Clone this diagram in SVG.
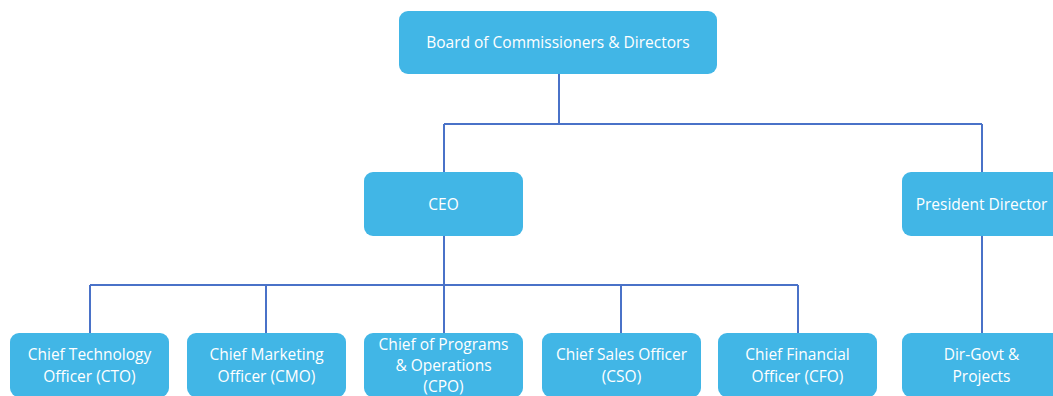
<svg xmlns="http://www.w3.org/2000/svg" width="1053" height="396" viewBox="0 0 1053 396">
<style>
.box{fill:#41b6e6;}
.t{font-family:"Open Sans","Liberation Sans",sans-serif;font-size:15.5px;fill:#ffffff;text-anchor:middle;}
.c{stroke:#4a72c8;stroke-width:2;fill:none;}
</style>
<rect width="1053" height="396" fill="#ffffff"/>
<g id="connectors">
<path class="c" d="M559 74 V124 M444 124 H982 M444 124 V172 M982 124 V172"/>
<path class="c" d="M444 236 V333 M90 285 H798 M90 285 V333 M266 285 V333 M621 285 V333 M798 285 V333"/>
<path class="c" d="M982 236 V333"/>
</g>
<g id="board"><rect class="box" x="399" y="11" width="318" height="63" rx="9"/><text class="t" x="558" y="48">Board of Commissioners &amp; Directors</text></g>
<g id="ceo"><rect class="box" x="364" y="172" width="159" height="64" rx="9"/><text class="t" x="443.5" y="210">CEO</text></g>
<g id="president"><rect class="box" x="902" y="172" width="159" height="64" rx="9"/><text class="t" x="981.5" y="210">President Director</text></g>
<g id="cto"><rect class="box" x="10" y="333" width="159" height="64" rx="9"/><text class="t" x="89.5" y="360">Chief Technology</text><text class="t" x="89.5" y="382">Officer (CTO)</text></g>
<g id="cmo"><rect class="box" x="187" y="333" width="159" height="64" rx="9"/><text class="t" x="266.5" y="360">Chief Marketing</text><text class="t" x="266.5" y="382">Officer (CMO)</text></g>
<g id="cpo"><rect class="box" x="364" y="333" width="159" height="64" rx="9"/><text class="t" x="443.5" y="350">Chief of Programs</text><text class="t" x="443.5" y="371">&amp; Operations</text><text class="t" x="443.5" y="392">(CPO)</text></g>
<g id="cso"><rect class="box" x="542" y="333" width="159" height="64" rx="9"/><text class="t" x="621.5" y="360">Chief Sales Officer</text><text class="t" x="621.5" y="382">(CSO)</text></g>
<g id="cfo"><rect class="box" x="718" y="333" width="159" height="64" rx="9"/><text class="t" x="797.5" y="360">Chief Financial</text><text class="t" x="797.5" y="382">Officer (CFO)</text></g>
<g id="dirgovt"><rect class="box" x="902" y="333" width="159" height="64" rx="9"/><text class="t" x="981.5" y="360">Dir-Govt &amp;</text><text class="t" x="981.5" y="382">Projects</text></g>
</svg>
